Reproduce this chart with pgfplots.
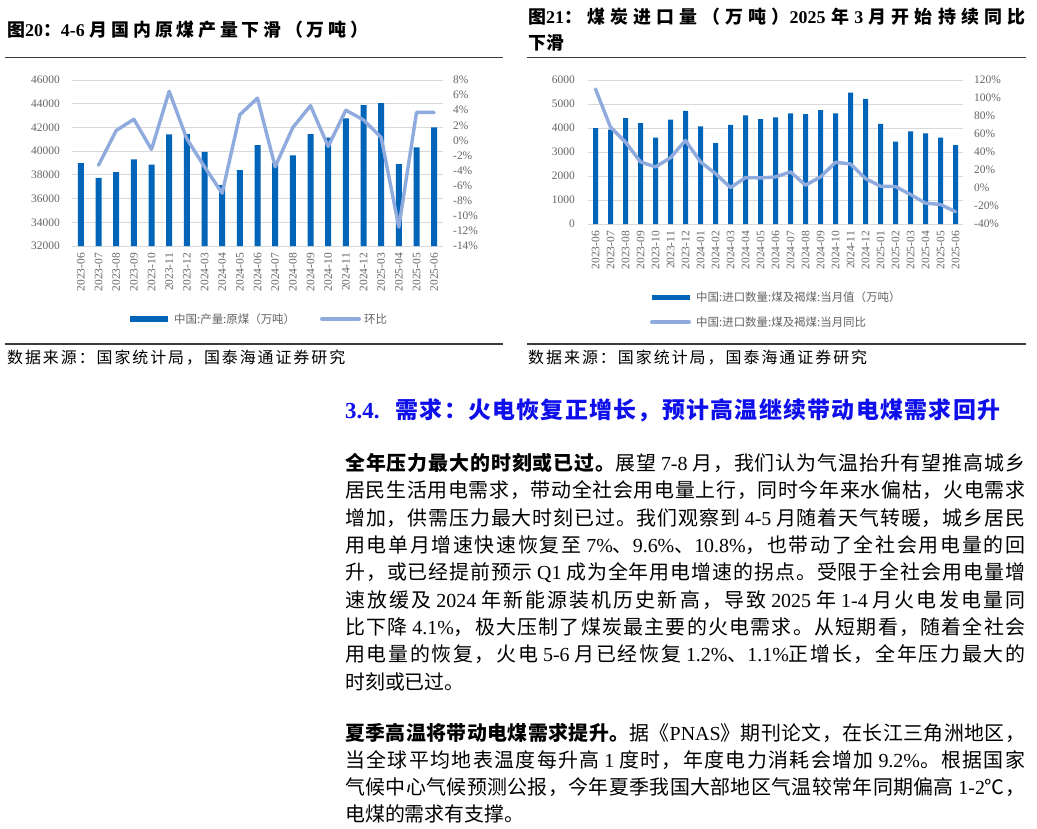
\documentclass[border=0pt]{standalone}
\usepackage{fontspec}
\setmainfont{Liberation Serif}
\newfontfamily\cjk{Noto Sans CJK SC}
\usepackage{pgfplots}
\pgfplotsset{compat=1.18}

\definecolor{barblue}{RGB}{0,100,184}
\definecolor{lineblue}{RGB}{143,170,220}
\definecolor{gridgray}{RGB}{217,217,217}
\definecolor{tickgray}{RGB}{100,100,100}
\definecolor{rulegray}{RGB}{60,60,60}
\definecolor{headblue}{RGB}{15,15,235}

% stretchable glue between CJK characters, so lines can be justified
\newcount\cc
\cc="3000 \loop \XeTeXcharclass\cc=1 \advance\cc by 1 \ifnum\cc<"3040 \repeat
\cc="4E00 \loop \XeTeXcharclass\cc=1 \advance\cc by 1 \ifnum\cc<"A000 \repeat
\cc="FF00 \loop \XeTeXcharclass\cc=1 \advance\cc by 1 \ifnum\cc<"FF66 \repeat
\XeTeXcharclass"2103=1
\XeTeXinterchartoks 1 1 = {\hskip 0pt plus 8pt\relax}

\newcommand\tn[1]{{\rmfamily #1}}
% one justified line of text: x, baseline y, width
\newcommand\jl[5][]{\node[anchor=base west, inner sep=0pt, #1] at (#2,#3) {\hbox to #4bp{#5}};}

\pgfplotsset{
  chart/.style={
    scale only axis, anchor=south west,
    axis line style={draw=none}, tick style={draw=none},
    scaled y ticks=false, clip=true,
    every tick label/.append style={font=\fontsize{11.5}{12}\selectfont, text=tickgray, inner sep=0pt},
  },
}

\begin{document}
\XeTeXinterchartokenstate=1
\begin{tikzpicture}
\useasboundingbox (0,0) rectangle (1037bp,-829bp);
\fill[white] (0,0) rectangle (1037bp,-829bp);

% ---------------- chart 20: raw coal output ----------------
\begin{axis}[chart,
  at={(72bp,-246bp)}, width=371bp, height=166bp,
  xmin=-0.5, xmax=20.5, ymin=32000, ymax=46000,
  axis x line*=bottom, axis y line*=left,
  ymajorgrids, major grid style={draw=gridgray, line width=1bp},
  ytick={32000,34000,36000,38000,40000,42000,44000,46000},
  yticklabels={32000,34000,36000,38000,40000,42000,44000,46000},
  yticklabel shift=12bp,
  xtick={0,...,20},
  xticklabels={2023-06,2023-07,2023-08,2023-09,2023-10,2023-11,2023-12,2024-03,2024-04,2024-05,2024-06,2024-07,2024-08,2024-09,2024-10,2024-11,2024-12,2025-03,2025-04,2025-05,2025-06},
  x tick label style={rotate=90, anchor=east},
  xticklabel shift=7bp,
]
\addplot[ybar, bar width=6bp, bar shift=0pt, fill=barblue, draw=none] coordinates {
(0,39000) (1,37750) (2,38230) (3,39300) (4,38870) (5,41410) (6,41440)
(7,39940) (8,37130) (9,38390) (10,40500) (11,39000) (12,39640) (13,41440)
(14,41130) (15,42760) (16,43890) (17,44060) (18,38900) (19,40310) (20,42000)
};
\end{axis}
\begin{axis}[chart,
  at={(72bp,-246bp)}, width=371bp, height=166bp,
  xmin=-0.5, xmax=20.5, ymin=-14, ymax=8,
  hide x axis, axis y line*=right,
  ytick={-14,-12,-10,-8,-6,-4,-2,0,2,4,6,8},
  yticklabels={-14\%,-12\%,-10\%,-8\%,-6\%,-4\%,-2\%,0\%,2\%,4\%,6\%,8\%},
  yticklabel shift=10bp,
]
\addplot[lineblue, line width=3.4bp, line join=round, line cap=round] coordinates {
(1,-3.3) (2,1.3) (3,2.8) (4,-1.2) (5,6.5) (6,0.2) (7,-3.5) (8,-7.0) (9,3.4)
(10,5.6) (11,-3.5) (12,1.7) (13,4.6) (14,-0.8) (15,4.0) (16,2.7) (17,0.4)
(18,-11.5) (19,3.7) (20,3.7)
};
\end{axis}

% ---------------- chart 21: coal imports ----------------
\begin{axis}[chart,
  at={(588bp,-224bp)}, width=375bp, height=144bp,
  xmin=-0.5, xmax=24.5, ymin=0, ymax=6000,
  axis x line*=bottom, axis y line*=left,
  ymajorgrids, major grid style={draw=gridgray, line width=1bp},
  ytick={0,1000,2000,3000,4000,5000,6000},
  yticklabels={0,1000,2000,3000,4000,5000,6000},
  yticklabel shift=13bp,
  xtick={0,...,24},
  xticklabels={2023-06,2023-07,2023-08,2023-09,2023-10,2023-11,2023-12,2024-01,2024-02,2024-03,2024-04,2024-05,2024-06,2024-07,2024-08,2024-09,2024-10,2024-11,2024-12,2025-01,2025-02,2025-03,2025-04,2025-05,2025-06},
  x tick label style={rotate=90, anchor=east},
  xticklabel shift=7bp,
]
\addplot[ybar, bar width=5bp, bar shift=0pt, fill=barblue, draw=none] coordinates {
(0,4000) (1,3930) (2,4410) (3,4205) (4,3600) (5,4345) (6,4715) (7,4065)
(8,3375) (9,4135) (10,4525) (11,4370) (12,4440) (13,4605) (14,4580) (15,4745)
(16,4605) (17,5475) (18,5215) (19,4175) (20,3430) (21,3860) (22,3775) (23,3595) (24,3290)
};
\end{axis}
\begin{axis}[chart,
  at={(588bp,-224bp)}, width=375bp, height=144bp,
  xmin=-0.5, xmax=24.5, ymin=-40, ymax=120,
  hide x axis, axis y line*=right,
  ytick={-40,-20,0,20,40,60,80,100,120},
  yticklabels={-40\%,-20\%,0\%,20\%,40\%,60\%,80\%,100\%,120\%},
  yticklabel shift=11bp,
]
\addplot[lineblue, line width=3.4bp, line join=round, line cap=round] coordinates {
(0,110) (1,67.6) (2,51) (3,29) (4,23.4) (5,33.7) (6,52.9) (7,29) (8,16)
(9,0.5) (10,11.6) (11,11.2) (12,12.3) (13,17.9) (14,3.1) (15,12.3) (16,28.6)
(17,26.7) (18,10.5) (19,2) (20,1.6) (21,-7.2) (22,-16.8) (23,-18.3) (24,-26.4)
};
\end{axis}

\begin{scope}[x=1bp, y=-1bp]
% titles and rules
\jl[font=\cjk\bfseries\fontsize{18}{20}\selectfont]{7}{36.8}{361}{图\tn{20}：\tn{4-6} 月国内原煤产量下滑（万吨）}
\jl[font=\cjk\bfseries\fontsize{18}{20}\selectfont]{528}{23.8}{497}{图\tn{21}：煤炭进口量（万吨）\tn{2025} 年 \tn{3} 月开始持续同比}
\node[anchor=base west, inner sep=0pt, font=\cjk\bfseries\fontsize{18}{20}\selectfont] at (528,49.8) {下滑};
\draw[rulegray, line width=1.2bp] (5,57.3) -- (503,57.3);
\draw[rulegray, line width=1.2bp] (527,57.3) -- (1026,57.3);
\draw[rulegray, line width=1.2bp] (5,344) -- (503,344);
\draw[rulegray, line width=1.2bp] (527,344) -- (1026,344);

% legends
\fill[barblue] (130,316) rectangle (168,322);
\node[anchor=base west, inner sep=0pt, text=tickgray, font=\cjk\fontsize{11.5}{12}\selectfont] at (174,323.4) {中国:产量:原煤（万吨）};
\draw[lineblue, line width=4bp, line cap=round] (322,319) -- (359,319);
\node[anchor=base west, inner sep=0pt, text=tickgray, font=\cjk\fontsize{11.5}{12}\selectfont] at (364,323.4) {环比};

\fill[barblue] (652,294.5) rectangle (690,299.5);
\node[anchor=base west, inner sep=0pt, text=tickgray, font=\cjk\fontsize{11.5}{12}\selectfont] at (696,301.4) {中国:进口数量:煤及褐煤:当月值（万吨）};
\draw[lineblue, line width=4bp, line cap=round] (652,322) -- (689,322);
\node[anchor=base west, inner sep=0pt, text=tickgray, font=\cjk\fontsize{11.5}{12}\selectfont] at (696,326.4) {中国:进口数量:煤及褐煤:当月同比};

% sources
\jl[font=\cjk\fontsize{16}{18}\selectfont]{7}{363}{338}{数据来源：国家统计局，国泰海通证券研究}
\jl[font=\cjk\fontsize{16}{18}\selectfont]{528}{363}{339}{数据来源：国家统计局，国泰海通证券研究}

% section heading
\jl[font=\cjk\bfseries\fontsize{23}{25}\selectfont, text=headblue]{345}{418.7}{655}{\tn{3.4.}\hspace{16bp}需求：火电恢复正增长，预计高温继续带动电煤需求回升}

% body paragraph 1
\begin{scope}[every node/.append style={font=\cjk\fontsize{20}{24}\selectfont}]
\jl{345}{470.6}{680}{{\bfseries 全年压力最大的时刻或已过。}展望 \tn{7-8} 月，我们认为气温抬升有望推高城乡}
\jl{345}{497.9}{680}{居民生活用电需求，带动全社会用电量上行，同时今年来水偏枯，火电需求}
\jl{345}{525.2}{680}{增加，供需压力最大时刻已过。我们观察到 \tn{4-5} 月随着天气转暖，城乡居民}
\jl{345}{552.5}{680}{用电单月增速快速恢复至 \tn{7\%}、\tn{9.6\%}、\tn{10.8\%}，也带动了全社会用电量的回}
\jl{345}{579.8}{680}{升，或已经提前预示 \tn{Q1} 成为全年用电增速的拐点。受限于全社会用电量增}
\jl{345}{607.1}{680}{速放缓及 \tn{2024} 年新能源装机历史新高，导致 \tn{2025} 年 \tn{1-4} 月火电发电量同}
\jl{345}{634.4}{680}{比下降 \tn{4.1\%}，极大压制了煤炭最主要的火电需求。从短期看，随着全社会}
\jl{345}{661.7}{680}{用电量的恢复，火电 \tn{5-6} 月已经恢复 \tn{1.2\%}、\tn{1.1\%}正增长，全年压力最大的}
\node[anchor=base west, inner sep=0pt] at (345,689.0) {时刻或已过。};

% body paragraph 2
\jl{345}{740.6}{680}{{\bfseries 夏季高温将带动电煤需求提升。}据《\tn{PNAS}》期刊论文，在长江三角洲地区，}
\jl{345}{767.6}{680}{当全球平均地表温度每升高 \tn{1} 度时，年度电力消耗会增加 \tn{9.2\%}。根据国家}
\jl{345}{794.6}{680}{气候中心气候预测公报，今年夏季我国大部地区气温较常年同期偏高 \tn{1-2}℃，}
\node[anchor=base west, inner sep=0pt] at (345,821.6) {电煤的需求有支撑。};
\end{scope}
\end{scope}
\end{tikzpicture}
\end{document}
